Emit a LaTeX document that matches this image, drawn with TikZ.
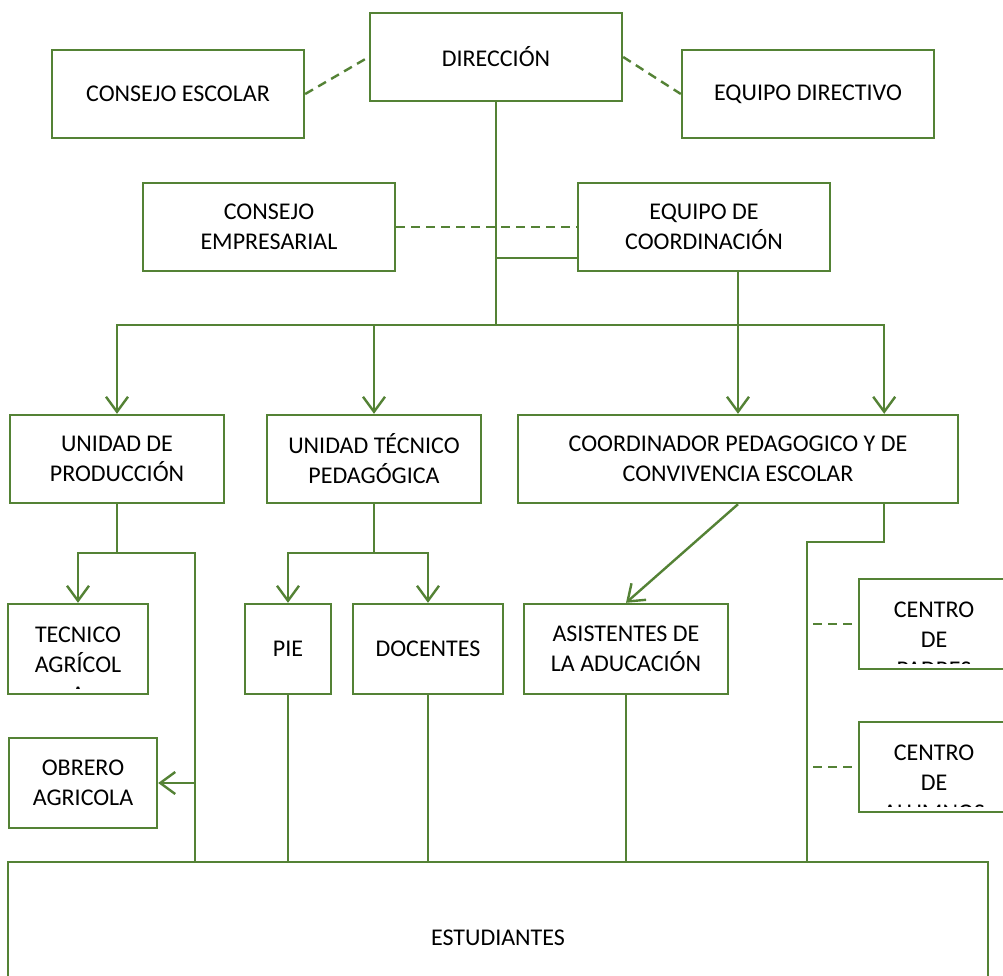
\documentclass[tikz,border=0pt]{standalone}
\usepackage{fontspec}
\setmainfont{Carlito}
\usetikzlibrary{arrows.meta,calc}
\definecolor{gr}{RGB}{84,130,53}
\begin{document}
\begin{tikzpicture}[x=1pt,y=-1pt,
 box/.style={draw=gr, line width=2.4pt, fill=white, align=center, font=\fontsize{24}{30}\selectfont, inner sep=0pt},
 ctext/.style={draw=none, fill=none, anchor=north, align=center, inner sep=0pt, font=\fontsize{24}{30}\selectfont},
 ln/.style={draw=gr, line width=2.4pt},
 arr/.style={ln, -{Straight Barb[length=15pt,width=22pt]}},
 dsh/.style={ln, dash pattern=on 9pt off 6pt},
 clipbox/.style={path picture={\clip (path picture bounding box.north west) rectangle ([yshift=6pt]path picture bounding box.south east);
    \node[ctext] at ([yshift=-14.5pt]path picture bounding box.north) {#1};}},
]
\clip (0,0) rectangle (1003,976);
\fill[white] (0,0) rectangle (1003,976);

% boxes
\node[box, minimum width=252pt, minimum height=88pt] (dir) at (496,57) {DIRECCIÓN};
\node[box, minimum width=252pt, minimum height=88pt] (ce) at (178,94) {CONSEJO ESCOLAR};
\node[box, minimum width=252pt, minimum height=88pt] (ed) at (808,94) {EQUIPO DIRECTIVO};
\node[box, minimum width=252pt, minimum height=88pt] (cemp) at (269,227) {CONSEJO\\EMPRESARIAL};
\node[box, minimum width=252pt, minimum height=88pt] (eqc) at (704,227) {EQUIPO DE\\COORDINACIÓN};
\node[box, minimum width=214pt, minimum height=88pt] (up) at (117,459) {UNIDAD DE\\PRODUCCIÓN};
\node[box, minimum width=214pt, minimum height=88pt] (utp) at (374,459) {UNIDAD TÉCNICO\\PEDAGÓGICA};
\node[box, minimum width=440pt, minimum height=88pt] (cp) at (738,459) {COORDINADOR PEDAGOGICO Y DE\\CONVIVENCIA ESCOLAR};
\node[box, minimum width=140pt, minimum height=90pt, clipbox={TECNICO\\AGRÍCOL\\A}] (tec) at (78,649) {};
\node[box, minimum width=148pt, minimum height=90pt] (obr) at (83,783) {OBRERO\\AGRICOLA};
\node[box, minimum width=86pt, minimum height=90pt] (pie) at (288,649) {PIE};
\node[box, minimum width=150pt, minimum height=90pt] (doc) at (428,649) {DOCENTES};
\node[box, minimum width=204pt, minimum height=90pt] (asis) at (626,649) {ASISTENTES DE\\LA ADUCACIÓN};
\node[box, minimum width=150pt, minimum height=90pt, clipbox={CENTRO\\DE\\PADRES}] (cpad) at (934,624) {};
\node[box, minimum width=150pt, minimum height=90pt, clipbox={CENTRO\\DE\\ALUMNOS}] (calum) at (934,767) {};
\node[box, minimum width=980pt, minimum height=152pt] (est) at (498,938) {ESTUDIANTES};

% dashed links
\draw[dsh] (ce.east) -- (dir.west);
\draw[dsh] (dir.east) -- (ed.west);
\draw[dsh] (cemp.east) -- (eqc.west);
\coordinate (dp) at (813,624);
\coordinate (da) at (813,767);
\draw[dsh] (dp) -- (cpad.west);
\draw[dsh] (da) -- (calum.west);

% main tree
\coordinate (j1) at (496,325);
\draw[ln] (dir.south) -- (j1);
\draw[ln] (dir.south |- 0,258) -- (eqc.west |- 0,258);
\draw[arr] (j1) -| (up.north);
\draw[arr] (j1) -| (utp.north);
\coordinate (cpr) at ($(cp.north east)+(-75,0)$);
\draw[arr] (j1) -| (cpr);
\draw[arr] (eqc.south -| cp.north) -- (cp.north);

% unidad de produccion
\coordinate (j3) at (up.south |- 0,553);
\coordinate (j4) at (195,553);
\draw[ln] (up.south) -- (j3);
\draw[arr] (j3) -| (tec.north);
\draw[ln] (j3) -- (j4) -- (j4 |- est.north);
\draw[arr] (j4 |- obr.east) -- (obr.east);

% unidad tecnico pedagogica
\coordinate (j5) at (utp.south |- 0,553);
\draw[ln] (utp.south) -- (j5);
\draw[arr] (j5) -| (pie.north);
\draw[arr] (j5) -| (doc.north);
\draw[ln] (pie.south) -- (pie.south |- est.north);
\draw[ln] (doc.south) -- (doc.south |- est.north);
\draw[ln] (asis.south) -- (asis.south |- est.north);

% coordinador
\draw[arr] (cp.south) -- (asis.north);
\coordinate (cps) at ($(cp.south east)+(-75,0)$);
\coordinate (j6) at (807,542);
\draw[ln] (cps) |- (j6) -- (j6 |- est.north);
\end{tikzpicture}
\end{document}
